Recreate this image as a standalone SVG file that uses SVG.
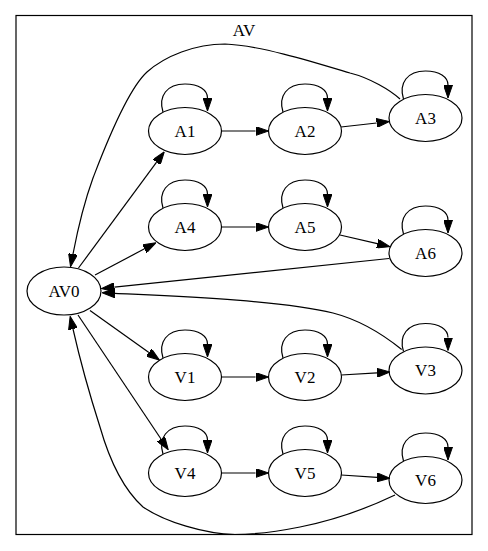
<svg xmlns="http://www.w3.org/2000/svg" width="488" height="551" viewBox="0 0 488 551">
<style>
  .n ellipse { fill: none; stroke: #000; stroke-width: 1.2; }
  .n text, .lbl { font-family: "Liberation Serif", "Times New Roman", serif; font-size: 17px; fill: #000; text-anchor: middle; }
  #edges path { fill: none; stroke: #000; stroke-width: 1.2; marker-end: url(#ah); }
</style>
<defs>
  <marker id="ah" markerUnits="userSpaceOnUse" viewBox="0 0 13 9" markerWidth="13" markerHeight="9" refX="0" refY="4.5" orient="auto">
    <path d="M0,0 L13,4.5 L0,9 Z" fill="#000" stroke="#000" stroke-width="1"/>
  </marker>
</defs>
<rect width="488" height="551" fill="#fff"/>
<g id="cluster_AV">
  <rect x="16" y="15.5" width="456" height="519" fill="none" stroke="#000" stroke-width="1.2"/>
  <text class="lbl" x="244" y="35.5">AV</text>
</g>
<g id="edges">
  <!-- self loops -->
  <path d="M163,112 C158,96 167,84 185,84 C199,84 207.5,90 207.5,98"/>
  <path d="M283,112 C278,96 287,84 305,84 C319,84 327.5,90 327.5,98"/>
  <path d="M403.5,99 C398.5,83 407.5,71 425.5,71 C439.5,71 448,77 448,85"/>
  <path d="M163,208 C158,192 167,180 185,180 C199,180 207.5,186 207.5,194"/>
  <path d="M283,208 C278,192 287,180 305,180 C319,180 327.5,186 327.5,194"/>
  <path d="M403.5,234 C398.5,218 407.5,206 425.5,206 C439.5,206 448,212 448,220"/>
  <path d="M163,358 C158,342 167,330 185,330 C199,330 207.5,336 207.5,344"/>
  <path d="M283,358 C278,342 287,330 305,330 C319,330 327.5,336 327.5,344"/>
  <path d="M403.5,351.5 C398.5,335.5 407.5,323.5 425.5,323.5 C439.5,323.5 448,329.5 448,337.5"/>
  <path d="M163,454 C158,438 167,426 185,426 C199,426 207.5,432 207.5,440"/>
  <path d="M283,454 C278,438 287,426 305,426 C319,426 327.5,432 327.5,440"/>
  <path d="M403.5,461 C398.5,445 407.5,433 425.5,433 C439.5,433 448,439 448,447"/>
  <!-- chain edges -->
  <path d="M221.5,131 L255.5,131"/>
  <path d="M341,127 L376.6,123"/>
  <path d="M221.5,227 L255.5,227"/>
  <path d="M340,235 L377.3,243.7"/>
  <path d="M221.5,377 L255.5,377"/>
  <path d="M341.3,375 L377,372.8"/>
  <path d="M221.5,473 L255.5,473"/>
  <path d="M341.3,475 L377,477.4"/>
  <!-- from AV0 -->
  <path d="M78.5,268 L156.6,162.2"/>
  <path d="M95,275 L144.5,248.8"/>
  <path d="M90,310.5 L148.9,352.5"/>
  <path d="M78,315 L161,439"/>
  <!-- back to AV0 -->
  <path d="M389,258.5 L114.4,287.2"/>
  <path d="M401.7,349.5 C385,336 360,320 333,313 C280,300 170,296 115,293.3"/>
  <path d="M400,99 C390,90 370,78 350,73 C320,64 260,45 225,44 C195,44 165,56 147,72 C125,92 100,160 93,178 C85,200 78,228 73,254"/>
  <path d="M395,495 C370,507 335,520 300,527 C275,532 255,534.5 235,534.5 C205,534 165,522 143,507 C122,488 108,455 100,427 C92,402 80,360 73,329"/>
</g>
<g id="AV0" class="n"><ellipse cx="64" cy="291" rx="37" ry="24"/><text x="64" y="296.5">AV0</text></g>
<g id="A1" class="n"><ellipse cx="185" cy="131" rx="36.5" ry="23.5"/><text x="185" y="136.5">A1</text></g>
<g id="A2" class="n"><ellipse cx="305" cy="131" rx="36.5" ry="23.5"/><text x="305" y="136.5">A2</text></g>
<g id="A3" class="n"><ellipse cx="425.5" cy="118" rx="36.5" ry="23.5"/><text x="425.5" y="123.5">A3</text></g>
<g id="A4" class="n"><ellipse cx="185" cy="227" rx="36.5" ry="23.5"/><text x="185" y="232.5">A4</text></g>
<g id="A5" class="n"><ellipse cx="305" cy="227" rx="36.5" ry="23.5"/><text x="305" y="232.5">A5</text></g>
<g id="A6" class="n"><ellipse cx="425.5" cy="253" rx="36.5" ry="23.5"/><text x="425.5" y="258.5">A6</text></g>
<g id="V1" class="n"><ellipse cx="185" cy="377" rx="36.5" ry="23.5"/><text x="185" y="382.5">V1</text></g>
<g id="V2" class="n"><ellipse cx="305" cy="377" rx="36.5" ry="23.5"/><text x="305" y="382.5">V2</text></g>
<g id="V3" class="n"><ellipse cx="425.5" cy="370.5" rx="36.5" ry="23.5"/><text x="425.5" y="376">V3</text></g>
<g id="V4" class="n"><ellipse cx="185" cy="473" rx="36.5" ry="23.5"/><text x="185" y="478.5">V4</text></g>
<g id="V5" class="n"><ellipse cx="305" cy="473" rx="36.5" ry="23.5"/><text x="305" y="478.5">V5</text></g>
<g id="V6" class="n"><ellipse cx="425.5" cy="480" rx="36.5" ry="23.5"/><text x="425.5" y="485.5">V6</text></g>
</svg>
